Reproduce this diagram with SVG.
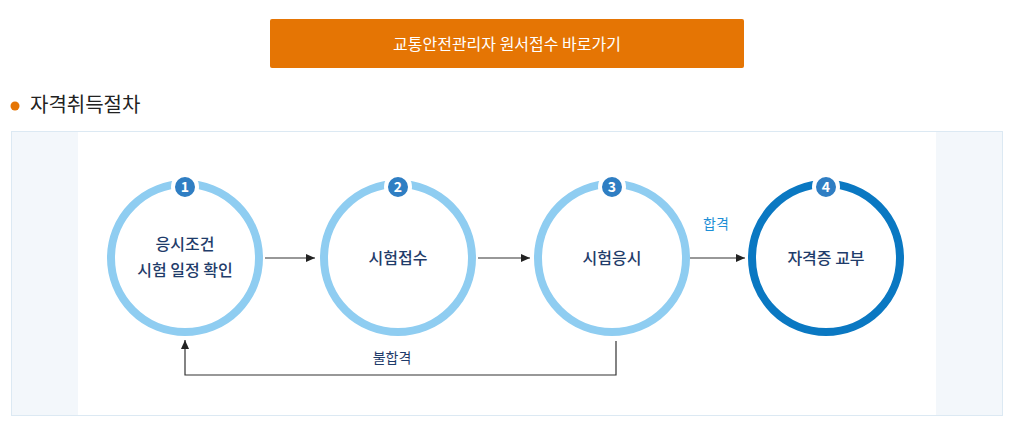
<svg xmlns="http://www.w3.org/2000/svg" width="1024" height="438" viewBox="0 0 1024 438">
<style>
text{font-family:"Noto Sans CJK KR","Noto Sans",sans-serif}
.ring{fill:none;stroke:#8fcdf1;stroke-width:8}
.badge{fill:#2f7ec3;stroke:#fff;stroke-width:4}
.num{fill:#fff;font-size:14px;font-weight:bold;text-anchor:middle}
.lbl{fill:#1f3c6a;font-size:16px;font-weight:500;text-anchor:middle}
.ln{fill:none;stroke:#333;stroke-width:1.2}
</style>
<defs><marker id="ah" markerWidth="10" markerHeight="10" refX="9" refY="5" orient="auto" markerUnits="userSpaceOnUse"><path d="M0,1 L9,5 L0,9 Z" fill="#222"/></marker></defs>
<rect width="1024" height="438" fill="#fff"/>
<g id="button"><rect x="270" y="19" width="474" height="49" rx="2" fill="#e57504"/><text x="507" y="50" font-size="16" fill="#fff" text-anchor="middle">교통안전관리자 원서접수 바로가기</text></g>
<g id="heading"><circle cx="15" cy="106" r="4.5" fill="#e57504"/><text x="30" y="112" font-size="20" fill="#222">자격취득절차</text></g>
<rect x="11.5" y="131.5" width="991" height="284" fill="#f3f7fb" stroke="#dce9f3"/>
<rect x="78" y="132" width="858" height="283" fill="#fff"/>
<g id="connectors">
<line class="ln" x1="265" y1="258" x2="315" y2="258" marker-end="url(#ah)"/>
<line class="ln" x1="478" y1="258" x2="530" y2="258" marker-end="url(#ah)"/>
<line class="ln" x1="690" y1="258" x2="745" y2="258" marker-end="url(#ah)"/>
<polyline class="ln" points="616,341 616,375 185,375 185,340" marker-end="url(#ah)"/>
<text x="716" y="229" font-size="14" fill="#1e8fd6" text-anchor="middle">합격</text>
<text x="392" y="363" font-size="14" fill="#1f3c6a" text-anchor="middle">불합격</text>
</g>
<g id="n1"><circle class="ring" cx="185" cy="258" r="74"/><circle class="badge" cx="185" cy="187" r="12"/><text class="num" x="185" y="192">1</text><text class="lbl" x="185" y="250">응시조건</text><text class="lbl" x="185" y="276">시험 일정 확인</text></g>
<g id="n2"><circle class="ring" cx="398" cy="258" r="74"/><circle class="badge" cx="398" cy="187" r="12"/><text class="num" x="398" y="192">2</text><text class="lbl" x="398" y="264">시험접수</text></g>
<g id="n3"><circle class="ring" cx="612" cy="258" r="74"/><circle class="badge" cx="612" cy="187" r="12"/><text class="num" x="612" y="192">3</text><text class="lbl" x="612" y="264">시험응시</text></g>
<g id="n4"><circle cx="826" cy="258" r="74" fill="none" stroke="#0a78c2" stroke-width="8"/><circle class="badge" cx="826" cy="187" r="12"/><text class="num" x="826" y="192">4</text><text class="lbl" x="826" y="264">자격증 교부</text></g>
</svg>
